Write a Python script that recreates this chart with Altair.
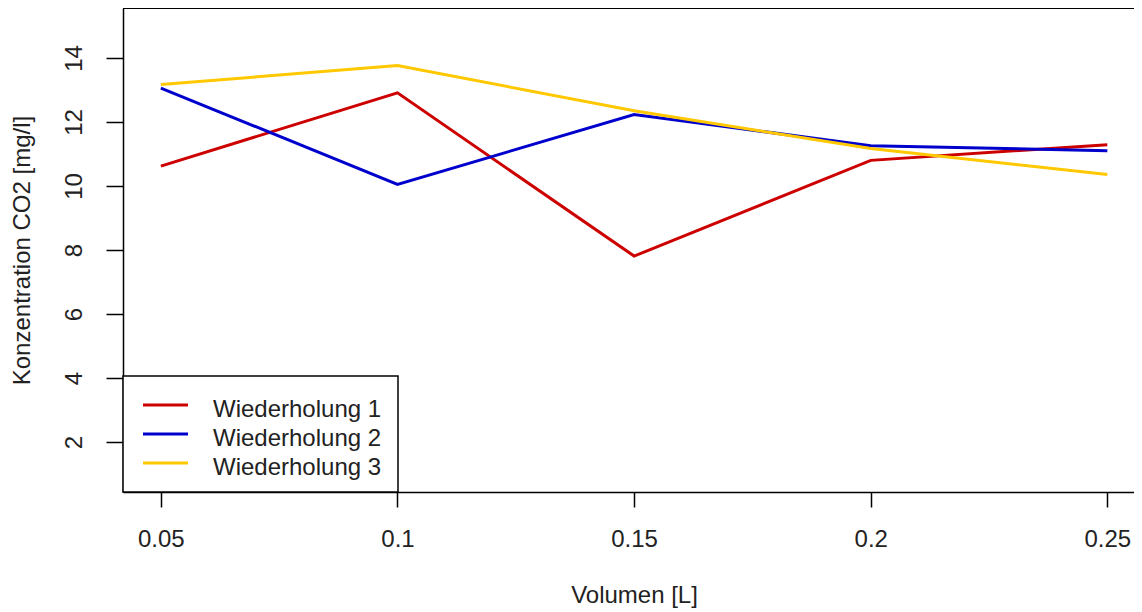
import altair as alt
import pandas as pd

volumen = [0.05, 0.1, 0.15, 0.2, 0.25]
wiederholung_1 = [10.62, 12.91, 7.81, 10.80, 11.29]
wiederholung_2 = [13.06, 10.05, 12.23, 11.26, 11.10]
wiederholung_3 = [13.17, 13.76, 12.35, 11.17, 10.36]
series_names = ["Wiederholung 1", "Wiederholung 2", "Wiederholung 3"]
series_colors = ["#CD0000", "#0000CD", "#FFC800"]
x_ticks = [0.05, 0.1, 0.15, 0.2, 0.25]
y_ticks = [2, 4, 6, 8, 10, 12, 14]

rows = []
for name, vals in zip(series_names, [wiederholung_1, wiederholung_2, wiederholung_3]):
    for v, c in zip(volumen, vals):
        rows.append({"Volumen": v, "Konz": c, "Serie": name})
df = pd.DataFrame(rows)

W = 1011
H = 484
FONT = "Liberation Sans"

lines = alt.Chart(df).mark_line(strokeWidth=3, clip=True).encode(
    x=alt.X("Volumen:Q",
            scale=alt.Scale(domain=[0.042, 0.25563], nice=False, zero=False),
            axis=alt.Axis(values=x_ticks, format="~g", title="Volumen [L]",
                          grid=False, tickSize=15, labelPadding=39,
                          labelBaseline="alphabetic", labelFontSize=24,
                          labelFont=FONT, titleFont=FONT, titleFontSize=24,
                          titleFontWeight="normal", titleX=511, titleY=110,
                          titleBaseline="alphabetic", titleAlign="center",
                          labelFlush=False, labelOverlap=False)),
    y=alt.Y("Konz:Q",
            scale=alt.Scale(domain=[0.44, 15.56], nice=False, zero=False),
            axis=alt.Axis(values=y_ticks, title="Konzentration CO2 [mg/l]",
                          grid=False, tickSize=17, labelPadding=25,
                          labelAngle=270, labelAlign="center",
                          labelBaseline="alphabetic", labelFontSize=24,
                          labelFont=FONT, titleFont=FONT, titleFontSize=24,
                          titleFontWeight="normal", titleAngle=270,
                          titleX=-94, titleY=242, titleAlign="center",
                          titleBaseline="alphabetic", labelFlush=False,
                          labelOverlap=False)),
    color=alt.Color("Serie:N",
                    scale=alt.Scale(domain=series_names, range=series_colors),
                    legend=None),
)

top_rule = alt.Chart(df).mark_rule(color="black", strokeWidth=1.5).encode(
    x=alt.value(0), x2=alt.value(W), y=alt.value(0)
)

# legend (drawn like R's legend box, bottom-left)
legend_df = pd.DataFrame({"name": series_names, "color": series_colors})
legend_box = alt.Chart(legend_df.head(1)).mark_rect(
    fill="white", stroke="black", strokeWidth=1.5
).encode(x=alt.value(0), x2=alt.value(275), y=alt.value(368), y2=alt.value(484))

legend_layers = [legend_box]
for i, (name, col) in enumerate(zip(series_names, series_colors)):
    one = legend_df.iloc[[i]]
    row_y = 397 + 29 * i
    legend_layers.append(
        alt.Chart(one).mark_rule(color=col, strokeWidth=3).encode(
            x=alt.value(20), x2=alt.value(65), y=alt.value(row_y))
    )
    legend_layers.append(
        alt.Chart(one).mark_text(font=FONT, fontSize=24, align="left",
                                 baseline="alphabetic", color="#222").encode(
            x=alt.value(90), y=alt.value(row_y + 12), text="name:N")
    )

chart = alt.layer(lines, top_rule, *legend_layers).properties(
    width=W, height=H,
    autosize=alt.AutoSizeParams(type="none"),
    padding={"left": 115, "top": 0, "right": 0, "bottom": 116},
).configure_view(stroke=None).configure_axis(
    domainColor="black", domainWidth=1.5, tickColor="black", tickWidth=1.5,
    labelColor="#222", titleColor="#222"
)

chart.save("out.html", embed_options={"renderer": "svg", "actions": False})
